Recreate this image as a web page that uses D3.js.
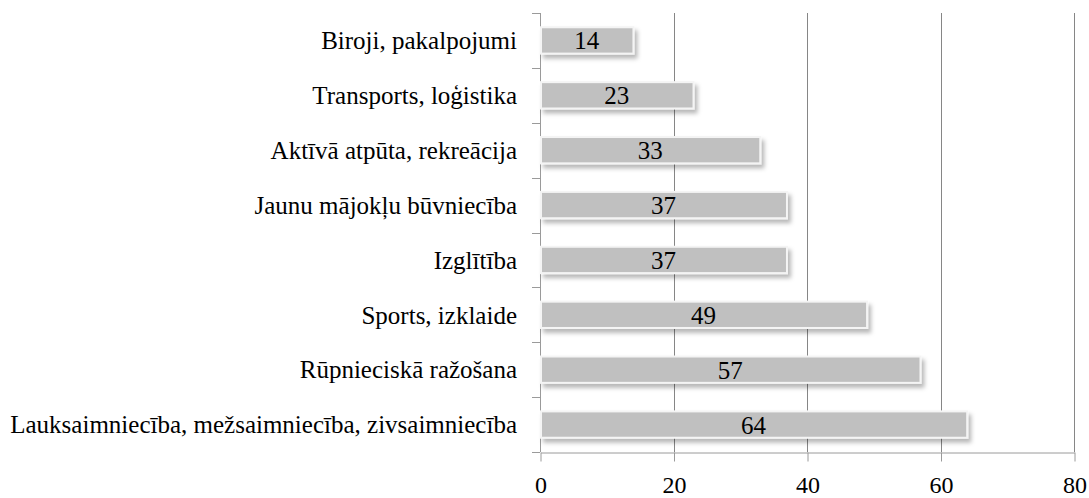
<!DOCTYPE html>
<head>
    <meta charset="utf-8">
    <script src="https://cdn.jsdelivr.net/npm/d3@7"></script>
</head>

<body style="margin:0">
<div id="chart"></div>
<script>
    var categories = [
        'Biroji, pakalpojumi',
        'Transports, loģistika',
        'Aktīvā atpūta, rekreācija',
        'Jaunu mājokļu būvniecība',
        'Izglītība',
        'Sports, izklaide',
        'Rūpnieciskā ražošana',
        'Lauksaimniecība, mežsaimniecība, zivsaimniecība'
    ];
    var values = [14, 23, 33, 37, 37, 49, 57, 64];
    var xTicks = [0, 20, 40, 60, 80];

    var width = 1089, height = 498;
    var margin = { top: 13, left: 540, right: 15, bottom: 46 };
    var serif = "'Liberation Serif'";

    var svg = d3.select('#chart')
        .append('svg')
        .attr('width', width)
        .attr('height', height)
        .attr('font-family', 'Liberation Serif');

    // soft shadow like the spreadsheet bars
    var filter = svg.append('defs').append('filter')
        .attr('id', 'shadow')
        .attr('x', '-10%').attr('y', '-30%')
        .attr('width', '130%').attr('height', '190%');
    filter.append('feDropShadow')
        .attr('dx', 3).attr('dy', 4)
        .attr('stdDeviation', 2)
        .attr('flood-color', '#000')
        .attr('flood-opacity', 0.28);

    var x = d3.scaleLinear()
        .domain([0, 80])
        .range([margin.left, width - margin.right]);

    var y = d3.scaleBand()
        .domain(categories)
        .range([margin.top, height - margin.bottom])
        .paddingInner(0.52)
        .paddingOuter(0.26);

    var yBounds = d3.scaleLinear()
        .domain([0, categories.length])
        .range([margin.top, height - margin.bottom]);

    // gridlines
    svg.append('g')
        .selectAll('line')
        .data(xTicks.slice(1))
        .join('line')
        .attr('x1', d => Math.round(x(d)) + 0.5)
        .attr('x2', d => Math.round(x(d)) + 0.5)
        .attr('y1', margin.top)
        .attr('y2', height - margin.bottom)
        .attr('stroke', '#868686')
        .attr('stroke-width', 1);

    // x axis
    var xAxis = svg.append('g')
        .attr('transform', `translate(0.5,${height - margin.bottom + 0.5})`)
        .call(d3.axisBottom(x).tickValues(xTicks).tickSize(9).tickPadding(14).tickSizeOuter(0))
        .attr('font-family', 'Liberation Serif')
        .attr('font-size', 24);
    xAxis.select('.domain').attr('stroke', '#9a9a9a');
    xAxis.selectAll('.tick line').attr('stroke', '#9a9a9a');
    xAxis.selectAll('.tick text')
        .style('font-family', serif)
        .style('font-size', '24px')
        .attr('fill', '#000');

    // y axis line with ticks at band boundaries
    svg.append('line')
        .attr('x1', margin.left + 0.5).attr('x2', margin.left + 0.5)
        .attr('y1', margin.top).attr('y2', height - margin.bottom)
        .attr('stroke', '#9a9a9a');
    svg.append('g')
        .selectAll('line')
        .data(d3.range(categories.length + 1))
        .join('line')
        .attr('x1', margin.left - 8)
        .attr('x2', margin.left)
        .attr('y1', d => Math.round(yBounds(d)) + 0.5)
        .attr('y2', d => Math.round(yBounds(d)) + 0.5)
        .attr('stroke', '#9a9a9a');

    // category labels
    svg.append('g')
        .selectAll('text')
        .data(categories)
        .join('text')
        .attr('x', margin.left - 23)
        .attr('y', d => y(d) + y.bandwidth() / 2)
        .attr('dy', '0.35em')
        .attr('text-anchor', 'end')
        .style('font-family', serif)
        .style('font-size', '25px')
        .text(d => d);

    // bars
    svg.append('g')
        .selectAll('rect')
        .data(values)
        .join('rect')
        .attr('x', x(0) + 1)
        .attr('y', (d, i) => y(categories[i]))
        .attr('width', d => x(d) - x(0) - 1)
        .attr('height', y.bandwidth())
        .attr('fill', '#c0c0c0')
        .attr('stroke', '#f4f4f4')
        .attr('stroke-width', 2)
        .attr('filter', 'url(#shadow)');

    // value labels
    svg.append('g')
        .selectAll('text')
        .data(values)
        .join('text')
        .attr('x', d => (x(0) + x(d)) / 2)
        .attr('y', (d, i) => y(categories[i]) + y.bandwidth() / 2)
        .attr('dy', '0.36em')
        .attr('text-anchor', 'middle')
        .style('font-family', serif)
        .style('font-size', '25px')
        .text(d => d);
</script>
</body>
